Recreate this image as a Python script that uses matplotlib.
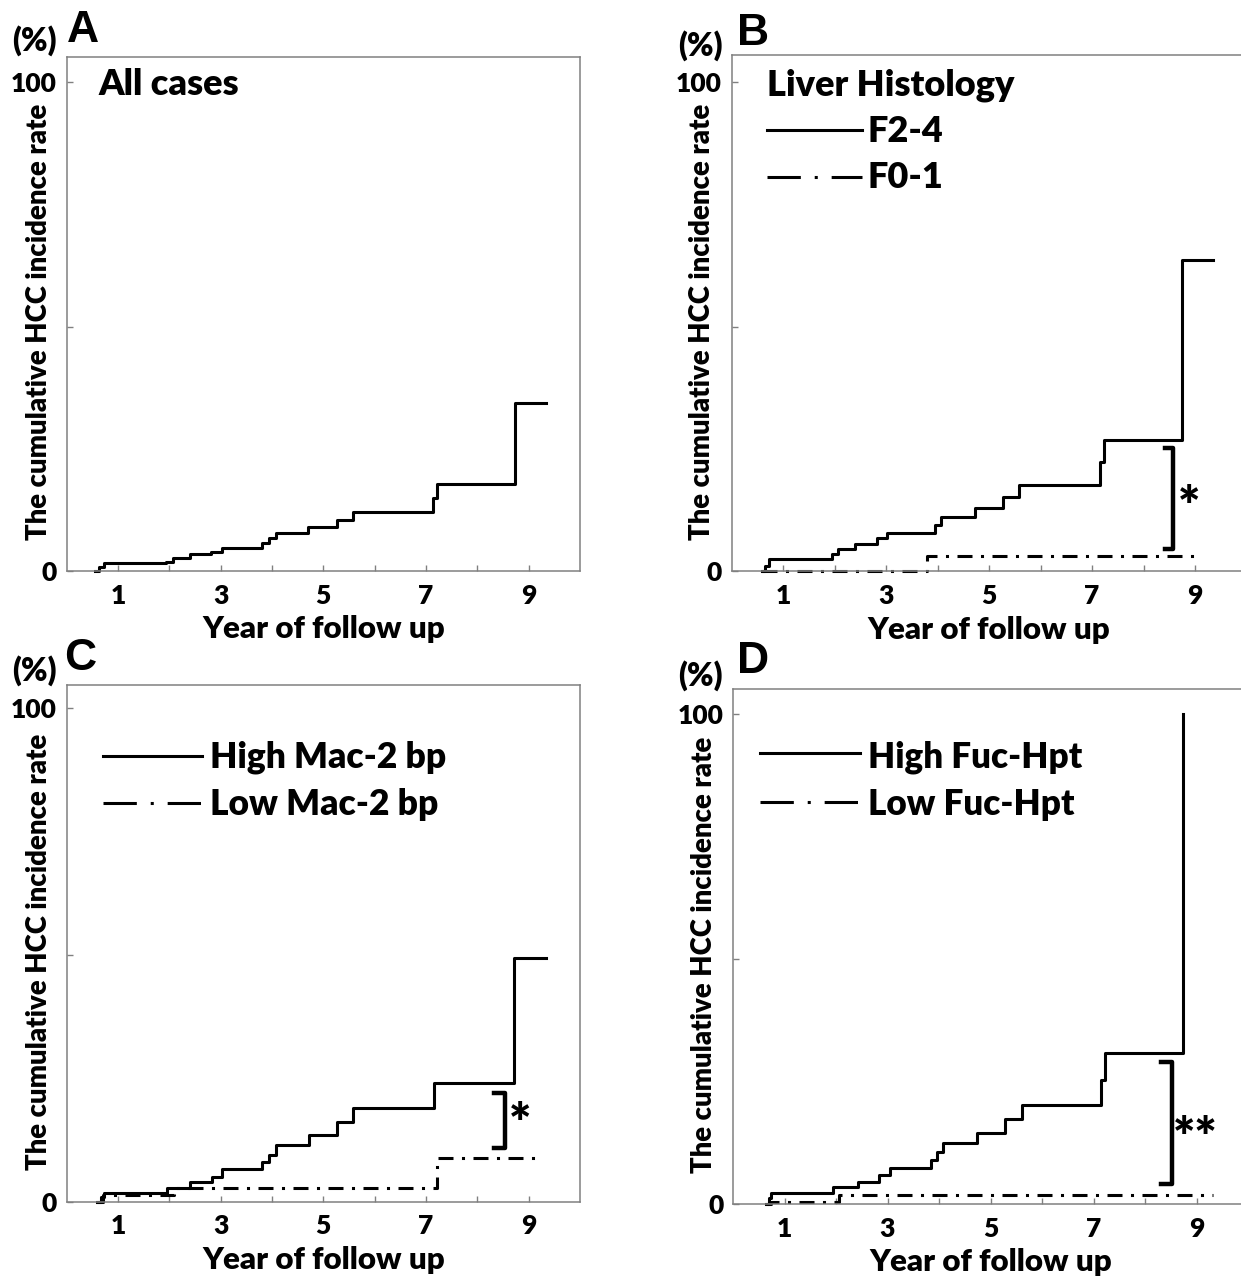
import numpy as np
import matplotlib.pyplot as plt

plt.rcParams['font.family'] = ['Lato', 'DejaVu Sans']
plt.rcParams['font.weight'] = 'heavy'
plt.rcParams['lines.scale_dashes'] = False

# ---- data (years of follow up, cumulative HCC incidence %) ----
a_t = [0.55, 0.62, 0.73, 1.93, 2.07, 2.40, 2.82, 3.03, 3.81, 3.95, 4.07, 4.71, 5.27, 5.58, 7.14, 7.21, 8.73, 9.34]
a_v = [0, 0.8, 1.6, 1.9, 2.6, 3.4, 3.9, 4.8, 5.7, 6.7, 7.7, 9.1, 10.4, 12.0, 14.9, 17.7, 34.3, 34.3]

b_hi_t = [0.59, 0.66, 0.73, 1.95, 2.07, 2.40, 2.82, 3.01, 3.95, 4.06, 4.73, 5.27, 5.59, 7.16, 7.23, 8.74, 9.34]
b_hi_v = [0, 1.2, 2.5, 3.6, 4.5, 5.6, 6.8, 7.8, 9.5, 11.1, 12.9, 15.2, 17.7, 22.3, 26.8, 63.6, 63.6]
b_lo_t = [0.60, 3.79, 9.13]
b_lo_v = [0, 3.2, 3.2]

c_hi_t = [0.59, 0.66, 0.73, 1.95, 2.40, 2.83, 3.03, 3.81, 3.95, 4.08, 4.72, 5.26, 5.58, 7.15, 8.72, 9.33]
c_hi_v = [0, 0.9, 1.8, 2.8, 3.9, 5.1, 6.6, 8.0, 9.5, 11.5, 13.5, 16.2, 19.0, 24.1, 49.4, 49.4]
c_lo_t = [0.60, 0.70, 2.10, 7.21, 9.12]
c_lo_v = [0, 1.4, 2.7, 8.9, 8.9]

d_hi_t = [0.64, 0.70, 0.74, 1.95, 2.42, 2.84, 3.05, 3.84, 3.97, 4.08, 4.74, 5.29, 5.61, 7.15, 7.22, 8.73]
d_hi_v = [0, 1.2, 2.4, 3.5, 4.6, 6.0, 7.3, 9.0, 10.7, 12.6, 14.6, 17.4, 20.3, 25.4, 30.8, 100]
d_lo_t = [0.64, 0.74, 2.06, 9.32]
d_lo_v = [0, 0.5, 1.8, 1.8]

xticks = [1, 2, 3, 4, 5, 6, 7, 8, 9]
xticklabels = ['1', '', '3', '', '5', '', '7', '', '9']
yticks = [0, 50, 100]
yticklabels = ['0', '', '100']

W, H = 1241, 1281
fig = plt.figure(figsize=(W / 100, H / 100), dpi=100)

def px(x, y):
    return x / W, 1 - y / H

def make_axes(left, top, right, bottom, ytop):
    l, t = px(left, top)
    r, b = px(right, bottom)
    ax = fig.add_axes([l, b, r - l, t - b])
    ax.set_xlim(0, 10)
    ax.set_ylim(0, ytop)
    ax.set_xticks(xticks)
    ax.set_xticklabels(xticklabels)
    ax.set_yticks(yticks)
    ax.set_yticklabels(yticklabels)
    ax.tick_params(direction='in', length=4, width=1, color='#808080',
                   labelsize=19, pad=7)
    ax.tick_params(axis='x', pad=9)
    for s in ax.spines.values():
        s.set_color('#808080')
        s.set_linewidth(1.1)
    return ax

dashdot = (0, (10.8, 6.1, 2.2, 6.1))
legend_dd = (0, (24, 10, 2.2, 10, 24))
lw = 2.2

def curve(ax, t, v, ls='-'):
    ax.step(t, v, where='post', color='black', lw=lw, linestyle=ls, clip_on=False)

def bracket(ax, x, x0, y0, y1):
    ax.plot([x0, x, x, x0], [y1, y1, y0, y0], color='black', lw=3.2, clip_on=False)

def legend_line(x0, x1, y, ls='-'):
    fig.add_artist(plt.Line2D([x0 / W, x1 / W], [1 - y / H] * 2, color='black',
                              lw=lw, linestyle=ls))

def axis_texts(ax, ylab_x, xlab_y):
    ax.text(ylab_x, 0.484, 'The cumulative HCC incidence rate', rotation=90,
            ha='center', va='center', fontsize=19.8, transform=ax.transAxes)
    ax.text(0.5, xlab_y, 'Year of follow up', ha='center', va='baseline',
            fontsize=22.5, transform=ax.transAxes)

# Panel A
axA = make_axes(66.7, 56.7, 580, 571, 105.2)
curve(axA, a_t, a_v)
axis_texts(axA, -0.054, -0.13)
fig.text(*px(98, 95), 'All cases', fontsize=26, va='baseline')
fig.text(*px(67, 42), 'A', fontsize=32, va='baseline', family='Liberation Sans', weight='bold')
fig.text(*px(12, 51), '(%)', fontsize=23, va='baseline')

# Panel B
axB = make_axes(731.5, 55, 1246.5, 571.5, 105.6)
curve(axB, b_hi_t, b_hi_v)
curve(axB, b_lo_t, b_lo_v, dashdot)
bracket(axB, 8.58, 8.42, 4.7, 25.2)
axB.text(8.88, 12.6, '*', fontsize=38, ha='center', va='center')
axis_texts(axB, -0.057, -0.13)
fig.text(*px(767, 95), 'Liver Histology', fontsize=26, va='baseline')
fig.text(*px(868, 142), 'F2-4', fontsize=26, va='baseline')
fig.text(*px(868, 188), 'F0-1', fontsize=26, va='baseline')
legend_line(767, 862, 130)
legend_line(767, 862, 177, legend_dd)
fig.text(*px(737, 45), 'B', fontsize=32, va='baseline', family='Liberation Sans', weight='bold')
fig.text(*px(678, 56), '(%)', fontsize=23, va='baseline')

# Panel C
axC = make_axes(66.7, 685, 580, 1201.7, 104.7)
curve(axC, c_hi_t, c_hi_v)
curve(axC, c_lo_t, c_lo_v, dashdot)
bracket(axC, 8.54, 8.32, 10.8, 22.1)
axC.text(8.83, 15.3, '*', fontsize=38, ha='center', va='center')
axis_texts(axC, -0.054, -0.13)
fig.text(*px(210, 767), 'High Mac-2 bp', fontsize=25.5, va='baseline')
fig.text(*px(210, 815), 'Low Mac-2 bp', fontsize=25.5, va='baseline')
legend_line(103, 202, 756)
legend_line(103, 202, 803, legend_dd)
fig.text(*px(64, 670), 'C', fontsize=32, va='baseline', family='Liberation Sans', weight='bold')
fig.text(*px(12, 681), '(%)', fontsize=23, va='baseline')

# Panel D
axD = make_axes(733, 689.3, 1248, 1204.3, 105.0)
curve(axD, d_hi_t, d_hi_v)
curve(axD, d_lo_t, d_lo_v, dashdot)
bracket(axD, 8.52, 8.32, 4.1, 29.1)
axD.text(8.97, 13.1, '**', fontsize=38, ha='center', va='center')
axis_texts(axD, -0.057, -0.13)
fig.text(*px(868, 767), 'High Fuc-Hpt', fontsize=25.2, va='baseline')
fig.text(*px(868, 815), 'Low Fuc-Hpt', fontsize=25.2, va='baseline')
legend_line(760, 860, 753)
legend_line(760, 860, 802, legend_dd)
fig.text(*px(737, 673), 'D', fontsize=32, va='baseline', family='Liberation Sans', weight='bold')
fig.text(*px(678, 686), '(%)', fontsize=23, va='baseline')

fig.savefig('out.png', dpi=100)
